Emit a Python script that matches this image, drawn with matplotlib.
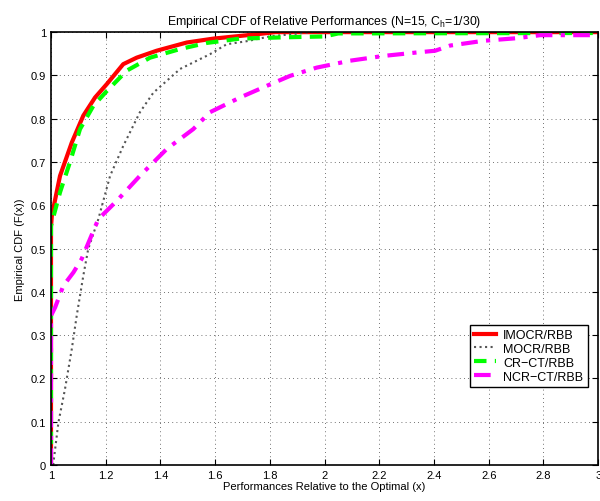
import matplotlib
matplotlib.use('Agg')
import matplotlib.pyplot as plt

plt.rcParams['font.family'] = ['Liberation Sans', 'DejaVu Sans']

imocr_x = [1.0, 1.0, 1.003, 1.033, 1.076, 1.118, 1.161, 1.204, 1.264, 1.313, 1.386, 1.496, 1.593, 1.75, 1.82, 3.0]
imocr_y = [0.0, 0.55, 0.576, 0.668, 0.745, 0.807, 0.849, 0.880, 0.926, 0.941, 0.957, 0.976, 0.985, 0.995, 1.0, 1.0]

mocr_x = [1.008, 1.027, 1.051, 1.076, 1.094, 1.118, 1.136, 1.173, 1.216, 1.264, 1.325, 1.374, 1.472, 1.581, 1.642, 1.715, 1.8, 1.95, 3.0]
mocr_y = [0.0, 0.098, 0.175, 0.268, 0.345, 0.437, 0.499, 0.568, 0.668, 0.737, 0.815, 0.860, 0.915, 0.949, 0.972, 0.979, 0.99, 1.0, 1.0]

crct_x = [1.0, 1.0, 1.033, 1.069, 1.106, 1.155, 1.204, 1.277, 1.362, 1.472, 1.569, 1.69, 1.85, 2.0, 2.05, 3.0]
crct_y = [0.0, 0.553, 0.630, 0.699, 0.776, 0.830, 0.864, 0.911, 0.941, 0.961, 0.975, 0.985, 0.988, 0.990, 0.997, 0.998]

ncrct_x = [1.0, 1.0, 1.015, 1.045, 1.082, 1.112, 1.173, 1.240, 1.325, 1.423, 1.520, 1.581, 1.691, 1.789, 1.874,
           1.971, 2.093, 2.215, 2.337, 2.404, 2.459, 2.581, 2.703, 2.788, 3.0]
ncrct_y = [0.0, 0.345, 0.364, 0.414, 0.445, 0.476, 0.568, 0.610, 0.668, 0.730, 0.776, 0.815, 0.849, 0.876, 0.899,
           0.918, 0.934, 0.945, 0.953, 0.957, 0.969, 0.980, 0.986, 0.993, 0.993]

xticks = [1, 1.2, 1.4, 1.6, 1.8, 2, 2.2, 2.4, 2.6, 2.8, 3]
yticks = [0, 0.1, 0.2, 0.3, 0.4, 0.5, 0.6, 0.7, 0.8, 0.9, 1]

fig = plt.figure(figsize=(6, 5.02), dpi=100)
ax = fig.add_axes([0.085, 0.0717, 0.912, 0.8623])

ax.plot(imocr_x, imocr_y, '-', color='#ff0000', lw=3, label='IMOCR/RBB')
ax.plot(mocr_x, mocr_y, ':', color='#555555', lw=1.5, label='MOCR/RBB')
ax.plot(crct_x, crct_y, '--', color='#00ff00', lw=3, dashes=(3, 2), label='CR\u2212CT/RBB')
ax.plot(ncrct_x, ncrct_y, '-.', color='#ff00ff', lw=3, dashes=(4, 2, 1, 2), label='NCR\u2212CT/RBB')

ax.set_xlim(1, 3)
ax.set_ylim(0, 1)
ax.set_xticks(xticks)
ax.set_xticklabels(['%g' % v for v in xticks])
ax.set_yticks(yticks)
ax.set_yticklabels(['%g' % v for v in yticks])
ax.tick_params(direction='in', labelsize=8, length=4, top=True, right=True)
ax.grid(True, linestyle=(0, (1, 4)), color='#444444', lw=0.6)
for s in ax.spines.values():
  s.set_linewidth(1.2)

ax.set_title('Empirical CDF of Relative Performances (N=15, C$_\\mathregular{h}$=1/30)', fontsize=8.8, pad=6)
ax.set_xlabel('Performances Relative to the Optimal (x)', fontsize=8, labelpad=1)
ax.set_ylabel('Empirical CDF (F(x))', fontsize=8, labelpad=4)

leg = ax.legend(loc='lower right', bbox_to_anchor=(0.992, 0.166), fontsize=9, fancybox=False,
                framealpha=1, edgecolor='black', handlelength=1.7, borderpad=0.35, labelspacing=0.15,
                handletextpad=0.6)
leg.get_frame().set_linewidth(1.0)

fig.savefig('out.png', dpi=100)
